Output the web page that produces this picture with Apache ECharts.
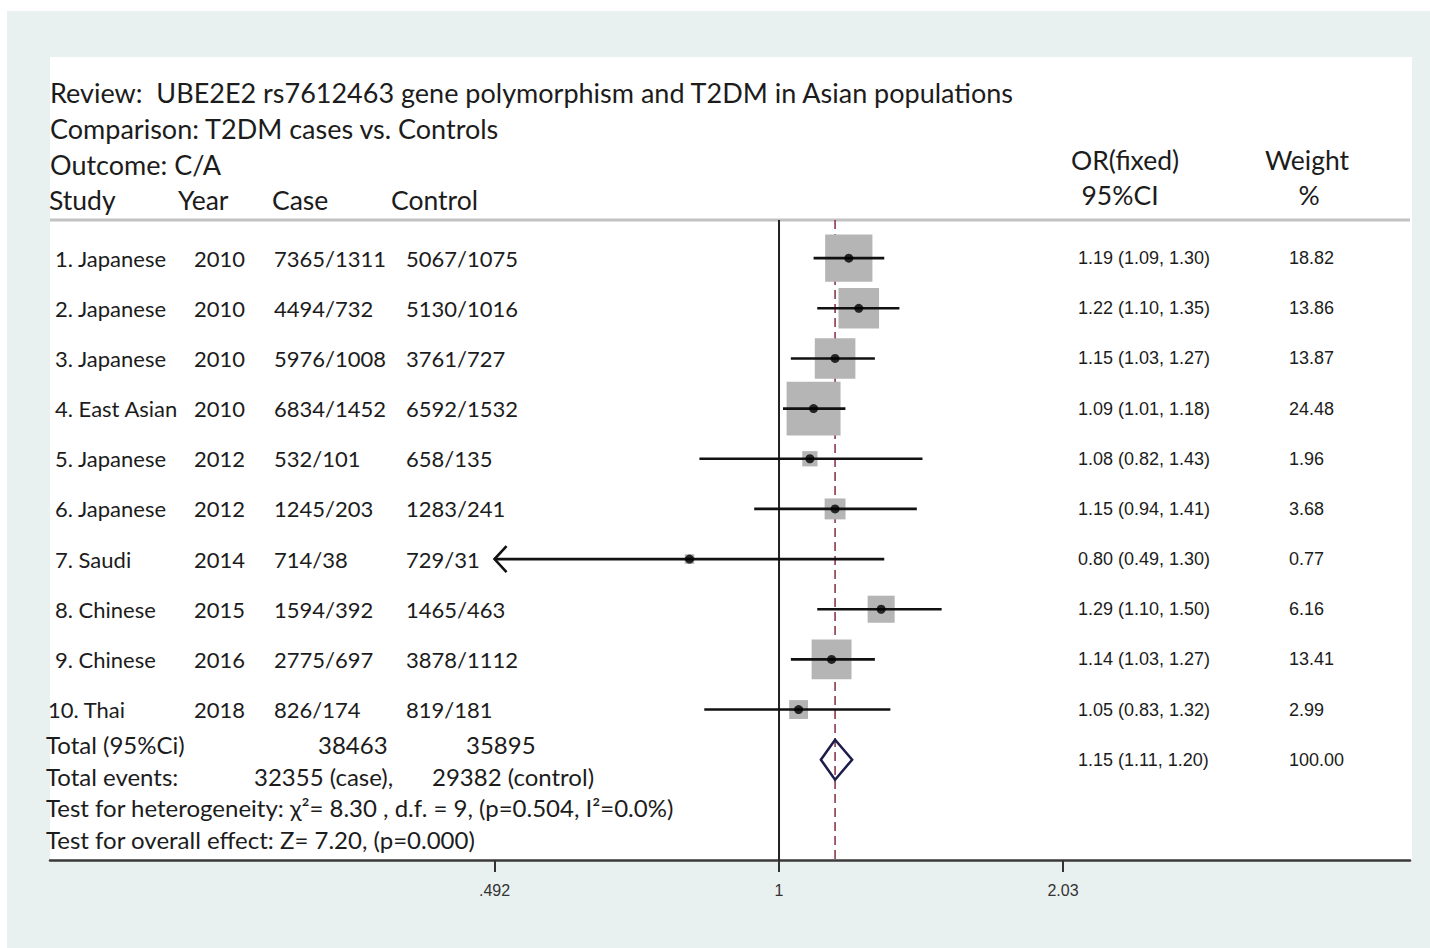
<!DOCTYPE html>
<html><head><meta charset="utf-8">
<script src="https://cdn.jsdelivr.net/npm/echarts@6/dist/echarts.min.js"></script>
<style>
html,body{margin:0;padding:0;background:#fff;}
#wrap{position:relative;width:1430px;height:948px;overflow:hidden;}
#bg{position:absolute;left:7px;top:11px;right:0;bottom:0;background:#e9f0f0;}
#panel{position:absolute;left:50px;top:57px;width:1362px;height:803px;background:#fff;}
#chart{position:absolute;left:0;top:0;width:1430px;height:948px;}
</style></head><body>
<div id="wrap"><div id="bg"></div><div id="panel"></div><div id="chart"></div></div>
<script>
// ---------- data ----------
const studies = ['1. Japanese','2. Japanese','3. Japanese','4. East Asian','5. Japanese','6. Japanese','7. Saudi','8. Chinese','9. Chinese','10. Thai'];
const years = ['2010','2010','2010','2010','2012','2012','2014','2015','2016','2018'];
const caseCounts = ['7365/1311','4494/732','5976/1008','6834/1452','532/101','1245/203','714/38','1594/392','2775/697','826/174'];
const controlCounts = ['5067/1075','5130/1016','3761/727','6592/1532','658/135','1283/241','729/31','1465/463','3878/1112','819/181'];
const orValues = [1.19,1.22,1.15,1.09,1.08,1.15,0.80,1.29,1.14,1.05];
const ciLower  = [1.09,1.10,1.03,1.01,0.82,0.94,0.49,1.10,1.03,0.83];
const ciUpper  = [1.30,1.35,1.27,1.18,1.43,1.41,1.30,1.50,1.27,1.32];
const weights  = [18.82,13.86,13.87,24.48,1.96,3.68,0.77,6.16,13.41,2.99];
const pooledOR = [1.15, 1.11, 1.20];   // estimate, lower, upper
const pooledWeight = 100.00;
const totalParticipants = ['38463','35895'];
const totalEvents = ['32355 (case),','29382 (control)'];
const titleLines = ['Review:  UBE2E2 rs7612463 gene polymorphism and T2DM in Asian populations','Comparison: T2DM cases vs. Controls','Outcome: C/A'];
const columnHeads = ['Study','Year','Case','Control'];
const heterogeneityText = 'Test for heterogeneity: \u03c7\u00b2= 8.30 , d.f. = 9, (p=0.504, I\u00b2=0.0%)';
const overallText = 'Test for overall effect: Z= 7.20, (p=0.000)';
const tickValues = [0.492, 1, 2.03];
const tickLabels = ['.492', '1', '2.03'];

// ---------- layout ----------
const F_CAL = 'Lato, "Open Sans", sans-serif';
const F_ARIAL = '"Liberation Sans", Arial, sans-serif';
const TXT = '#1c1c1c';
const pooledRow = studies.length;
const topRow = -0.76, bottomRow = 12;
const fmt = v => v.toFixed(2);

const chart = echarts.init(document.getElementById('chart'), null, {renderer: 'svg'});

const textEl = (x, y, text, size, family, align) => ({
  type: 'text', x: x, y: y, silent: true, z: 10,
  style: {text: text, fill: TXT, fontSize: size, fontFamily: family, align: align || 'left', verticalAlign: 'middle'}
});

const graphics = [
  {type: 'line', shape: {x1: 50, y1: 220, x2: 1410, y2: 220}, style: {stroke: '#c2c2c2', lineWidth: 3}, z: 1},
  textEl(50, 92, titleLines[0], 27, F_CAL),
  textEl(50, 128, titleLines[1], 27, F_CAL),
  textEl(50, 164, titleLines[2], 27, F_CAL),
  textEl(49, 200, columnHeads[0], 26.5, F_CAL),
  textEl(178, 200, columnHeads[1], 26.5, F_CAL),
  textEl(272, 200, columnHeads[2], 26.5, F_CAL),
  textEl(391, 200, columnHeads[3], 26.5, F_CAL),
  textEl(1125, 160, 'OR(fixed)', 26.5, F_CAL, 'center'),
  textEl(1120, 195, '95%CI', 26.5, F_CAL, 'center'),
  textEl(1307, 160, 'Weight', 26.5, F_CAL, 'center'),
  textEl(1309, 195, '%', 26.5, F_CAL, 'center'),
  textEl(46, 744, 'Total (95%Ci)', 24, F_CAL),
  textEl(318, 744, totalParticipants[0], 24, F_CAL),
  textEl(466, 744, totalParticipants[1], 24, F_CAL),
  textEl(46, 776, 'Total events:', 24, F_CAL),
  textEl(254, 776, totalEvents[0], 24, F_CAL),
  textEl(432, 776, totalEvents[1], 24, F_CAL),
  textEl(46, 807, heterogeneityText, 24, F_CAL),
  textEl(46, 839, overallText, 24, F_CAL)
];

const rowIdx = studies.map((s, i) => i);

const option = {
  animation: false,
  backgroundColor: 'transparent',
  grid: {left: 50, width: 1360, top: 208, height: 652},
  xAxis: {
    type: 'log', logBase: 10,
    min: 0.16243, max: 4.8216,
    axisLine: {show: true, onZero: false, lineStyle: {color: '#3a3a3a', width: 2.5}},
    axisTick: {show: true, length: 12, inside: false, lineStyle: {color: '#333', width: 2}, customValues: tickValues},
    axisLabel: {show: true, margin: 22, fontSize: 16, fontFamily: F_ARIAL, color: '#333',
      customValues: tickValues,
      formatter: v => { const k = tickValues.findIndex(t => Math.abs(t - v) < 1e-6); return k >= 0 ? tickLabels[k] : ''; }},
    splitLine: {show: false}, minorTick: {show: false}
  },
  yAxis: {type: 'value', inverse: true, min: -1, max: 12, show: false},
  graphic: graphics,
  series: [
    { // reference lines: no effect (1) and pooled estimate
      type: 'custom', silent: true, z: 1,
      data: [[1, 0], [pooledOR[0], 1]],
      renderItem: (params, api) => {
        const x = api.value(0);
        const p1 = api.coord([x, topRow]), p2 = api.coord([x, bottomRow]);
        const dashed = api.value(1) === 1;
        return {type: 'line', shape: {x1: p1[0], y1: p1[1], x2: p2[0], y2: p2[1]},
          style: dashed ? {stroke: '#8b3a4a', lineWidth: 1.6, lineDash: [9, 5]} : {stroke: '#222', lineWidth: 2}};
      }
    },
    { // weight boxes
      type: 'scatter', silent: true, z: 3,
      symbol: 'rect',
      symbolSize: (v, p) => 10.9 * Math.sqrt(weights[p.dataIndex]),
      itemStyle: {color: '#b5b5b5', opacity: 1},
      data: rowIdx.map(i => [orValues[i], i])
    },
    { // confidence intervals
      type: 'custom', silent: true, z: 4,
      data: rowIdx.map(i => [ciLower[i], ciUpper[i], i]),
      renderItem: (params, api) => {
        const lo = api.value(0), hi = api.value(1), r = api.value(2);
        const clipped = lo < tickValues[0];
        const a = api.coord([clipped ? tickValues[0] : lo, r]);
        const b = api.coord([hi, r]);
        const children = [{type: 'line', shape: {x1: a[0], y1: a[1], x2: b[0], y2: b[1]}, style: {stroke: '#111', lineWidth: 2.6}}];
        if (clipped) {
          children.push({type: 'polyline', shape: {points: [[a[0] + 12, a[1] - 13], [a[0], a[1]], [a[0] + 12, a[1] + 13]]},
            style: {stroke: '#111', lineWidth: 2.6, fill: null}});
        }
        return {type: 'group', children: children};
      }
    },
    { // point estimates
      type: 'scatter', silent: true, z: 5,
      symbol: 'circle', symbolSize: 9,
      itemStyle: {color: '#000'},
      data: rowIdx.map(i => [orValues[i], i])
    },
    { // pooled diamond
      type: 'custom', silent: true, z: 5,
      data: [[pooledOR[0], pooledOR[1], pooledOR[2], pooledRow]],
      renderItem: (params, api) => {
        const r = api.value(3);
        const c = api.coord([api.value(0), r]);
        const l = api.coord([api.value(1), r]);
        const h = api.coord([api.value(2), r]);
        const half = 20;
        return {type: 'polygon', shape: {points: [[l[0], c[1]], [c[0], c[1] - half], [h[0], c[1]], [c[0], c[1] + half]]},
          style: {stroke: '#1c1c4c', lineWidth: 2.5, fill: 'none'}};
      }
    },
    { // study table text
      type: 'custom', silent: true, z: 6,
      data: rowIdx.map(i => [1, i]),
      renderItem: (params, api) => {
        const i = params.dataIndex;
        const y = api.coord([1, api.value(1)])[1];
        const t = (x, s, size, fam) => ({type: 'text', style: {x: x, y: y, text: s, fill: TXT, fontSize: size, fontFamily: fam, align: 'left', verticalAlign: 'middle'}});
        return {type: 'group', children: [
          t(i === 9 ? 48 : 55, studies[i], 22, F_CAL),
          t(194, years[i], 22, F_CAL),
          t(274, caseCounts[i], 22, F_CAL),
          t(406, controlCounts[i], 22, F_CAL),
          t(1078, fmt(orValues[i]) + ' (' + fmt(ciLower[i]) + ', ' + fmt(ciUpper[i]) + ')', 18, F_ARIAL),
          t(1289, fmt(weights[i]), 18, F_ARIAL)
        ]};
      }
    },
    { // pooled row text
      type: 'custom', silent: true, z: 6,
      data: [[1, pooledRow]],
      renderItem: (params, api) => {
        const y = api.coord([1, api.value(1)])[1];
        const t = (x, s) => ({type: 'text', style: {x: x, y: y, text: s, fill: TXT, fontSize: 18, fontFamily: F_ARIAL, align: 'left', verticalAlign: 'middle'}});
        return {type: 'group', children: [
          t(1078, fmt(pooledOR[0]) + ' (' + fmt(pooledOR[1]) + ', ' + fmt(pooledOR[2]) + ')'),
          t(1289, pooledWeight.toFixed(2))
        ]};
      }
    }
  ]
};
chart.setOption(option);
</script>
</body></html>
